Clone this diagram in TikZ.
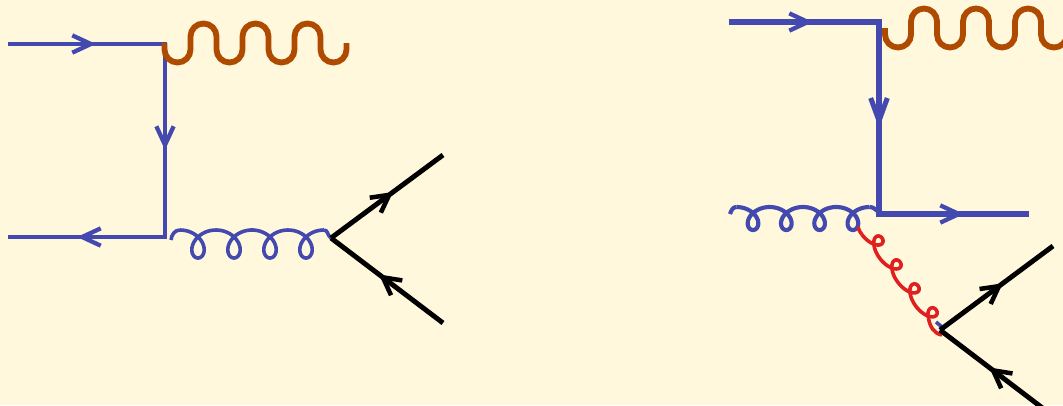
\documentclass[tikz,border=0pt]{standalone}
\usepackage{tikz}
\usetikzlibrary{arrows.meta,decorations.markings}
\definecolor{paper}{HTML}{FFF8DC}
\definecolor{quark}{HTML}{4349AF}
\definecolor{wboson}{HTML}{AE4B00}
\definecolor{softred}{HTML}{E02020}
\tikzset{
  quarkline/.style={draw=quark,line width=#1},
  quarkline/.default=3.5pt,
  photonline/.style={draw=wboson,line width=4.4pt},
  leptonline/.style={draw=black,line width=3.7pt},
  gluonline/.style={draw=#1,line width=2.7pt},
  thickgluon/.style={draw=#1,line width=3.1pt},
  barbtip/.tip={Straight Barb[length=14pt,width=13pt,line width=3.2pt]},
  heavytip/.tip={Straight Barb[length=17pt,width=12.5pt,line width=3.8pt]},
  blacktip/.tip={Straight Barb[length=13pt,width=14pt,line width=3.4pt]},
  leftquark/.style={postaction={decorate},decoration={markings,
    mark=at position 66pt with {\arrow{barbtip}},
    mark=at position 197.25pt with {\arrow{barbtip}},
    mark=at position 328.5pt with {\arrow{barbtip}}}},
  rightquark/.style={postaction={decorate},decoration={markings,
    mark=at position 63pt with {\arrow{barbtip}},
    mark=at position 192pt with {\arrow{heavytip}},
    mark=at position 320.25pt with {\arrow{barbtip}}}},
  leptontip/.style={postaction={decorate},decoration={markings,
    mark=at position #1 with {\arrow{blacktip}}}},
  photon/.pic={
    \draw[photonline] (0,0) -- ++(0,-6.5) arc (180:360:13)
      \foreach \n in {1,2,3}{ -- ++(0,13) arc (180:0:13) -- ++(0,-13) arc (180:360:13)}
      -- ++(0,6.5);
  }
}
% trochoid in pixels: step/2pi, loop width, height
\newcommand{\coil}[4]{plot[smooth,samples=#4,domain=\tmin:\tmax] ({#1*\x-#2*sin(\x r)},{#3*cos(\x r)})}

\begin{document}
\begin{tikzpicture}[x=0.75pt,y=0.75pt]
  \fill[paper] (0,0) rectangle (1063,-405);
  \useasboundingbox (0,0) rectangle (1063,-405);
  \clip (0,0) rectangle (1063,-405);

  % left diagram
  \coordinate (la) at (8,-44);
  \coordinate (lb) at (165,-44);
  \coordinate (lc) at (165,-237);
  \coordinate (ld) at (8,-237);
  \coordinate (lv) at (331,-238);
  \coordinate (lu) at (443,-155);
  \coordinate (ldn) at (443,-323);
  \draw[quarkline,leftquark] (la) -- (lb) -- (lc) -- (ld);
  \pic at (164.5,-43) {photon};
  \begin{scope}[shift={(198,-244)}]
    \def\tmin{-3.1416}\def\tmax{21.99}
    \draw[gluonline=quark] \coil{5.73}{14}{-14}{180};
    \coordinate (lgs) at (-18,14);
    \coordinate (lge) at (126,14);
  \end{scope}
  \draw[gluonline=quark] (171,-240) to[out=85,in=180] (lgs);
  \draw[gluonline=quark] (lge) to[out=0,in=150] (lv);
  \draw[leptonline,leptontip=0.554] (lv) -- (lu);
  \draw[leptonline,leptontip=0.571] (ldn) -- (lv);

  % right diagram
  \coordinate (ra) at (729,-22);
  \coordinate (rb) at (879,-22);
  \coordinate (rc) at (879,-214);
  \coordinate (rd) at (1029,-214);
  \coordinate (rv) at (940,-330);
  \coordinate (ru) at (1053,-246);
  \coordinate (rdn) at (1053,-416);
  \draw[quarkline=3.9pt,rightquark] (ra) -- (rb) -- (rc) -- (rd);
  \pic at (885,-28) {photon};
  \begin{scope}[shift={(753,-218.5)}]
    \def\tmin{-3.1416}\def\tmax{21.99}
    \draw[thickgluon=quark] \coil{5.3}{12.5}{-11.5}{180};
    \coordinate (rgs) at (-16.6,11.5);
    \coordinate (rge) at (116.6,11.5);
  \end{scope}
  \draw[thickgluon=quark] (730,-214) to[out=70,in=180] (rgs);
  \draw[thickgluon=quark] (rge) to[out=0,in=150] (879,-212);
  \draw[gluonline=quark] (936,-322) -- (942,-327);
  \begin{scope}[shift={(876.4,-242.2)},rotate=-53,yscale=-1]
    \def\tmin{-3.1416}\def\tmax{21.05}
    \draw[gluonline=softred] \coil{4.77}{11}{-7}{180};
    \coordinate (rrs) at (-15,7);
    \coordinate (rre) at (91.9,4.1);
  \end{scope}
  \draw[gluonline=softred] (858,-227) to[out=-75,in=127] (rrs);
  \draw[gluonline=softred] (rre) to[out=-80,in=170] (942,-335);
  \draw[leptonline,leptontip=0.558] (rv) -- (ru);
  \draw[leptonline,leptontip=0.566] (rdn) -- (rv);
\end{tikzpicture}
\end{document}
